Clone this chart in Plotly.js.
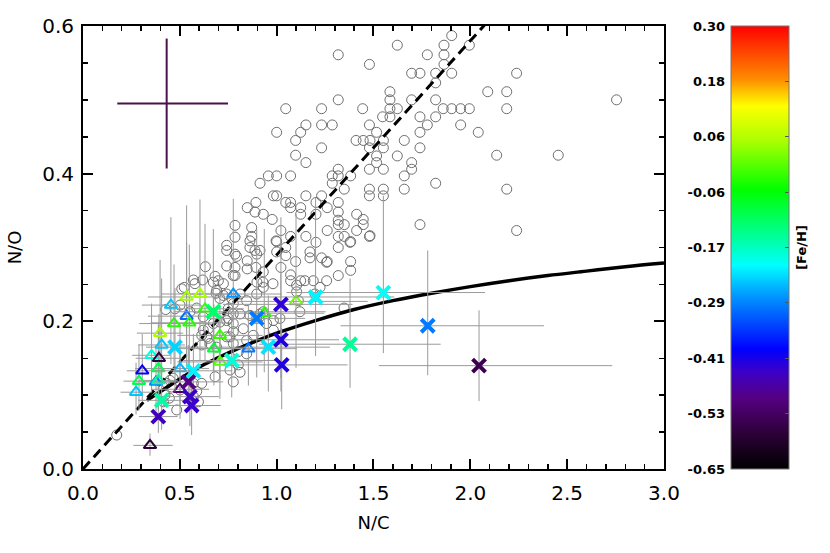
<!DOCTYPE html>
<html>
<head>
<meta charset="utf-8">
<script src="https://cdn.plot.ly/plotly-3.0.1.min.js"></script>
<style>
body { margin: 0; background: white; }
#plotArea { width: 830px; height: 553px; }
</style>
</head>
<body>
<div id="plotArea"></div>
<script>
// comparison sample (open grey circles)
var sampleNC = [1.904,1.623,1.318,1.479,1.995,1.864,1.778,1.864,1.864,1.904,1.697,1.740,1.821,1.821,2.239,2.090,2.188,2.188,
    1.860,1.904,1.950,1.995,1.821,1.697,1.585,1.585,1.585,1.623,1.547,1.585,1.740,1.821,1.950,2.041,1.778,1.740,1.659,1.740,
    1.479,1.516,1.410,1.447,1.482,1.551,1.479,1.551,1.516,1.623,1.516,1.479,1.551,1.697,1.697,1.659,1.821,1.659,1.479,1.551,
    1.479,1.551,2.188,2.136,1.740,2.239,2.755,2.454,1.047,1.232,1.318,1.444,1.000,1.124,1.151,1.232,1.287,1.098,1.232,1.098,
    1.151,0.957,1.000,1.072,0.914,1.287,1.318,1.287,1.318,1.382,1.349,0.983,1.000,0.893,0.848,1.047,1.072,1.151,1.232,1.203,
    0.931,0.977,1.072,1.124,1.124,1.203,1.261,1.318,1.318,1.318,1.413,1.447,1.447,1.413,1.479,1.022,1.000,1.072,1.151,1.203,
    1.261,1.318,1.349,1.318,1.349,1.382,1.318,1.172,1.172,1.232,1.261,1.098,1.124,1.072,1.072,1.318,1.382,1.382,1.047,1.047,
    1.000,1.022,0.931,0.893,0.897,0.862,0.888,0.914,0.848,0.848,0.862,0.785,0.785,0.785,0.785,0.785,0.888,0.871,0.898,0.929,
    0.981,1.103,0.871,0.742,0.742,0.793,0.997,0.742,0.632,0.776,0.682,0.699,0.618,0.578,0.725,0.523,0.687,0.707,0.742,0.768,
    0.811,0.845,0.897,0.931,0.427,0.475,0.552,0.587,0.750,0.776,0.811,0.501,0.621,0.673,0.707,0.742,0.862,0.931,0.897,0.948,
    0.983,1.017,0.828,0.776,0.759,0.879,0.621,0.613,0.639,0.656,0.613,0.802,0.845,0.802,0.759,0.811,0.682,0.776,0.449,0.465,
    0.432,0.458,0.501,0.423,0.484,0.570,0.596,0.613,0.174,0.570,0.673,0.510,0.690,0.725,0.776,0.750,0.776,0.647,0.647,0.742,
    0.776,0.690,0.845,0.914,0.983,1.103,1.112,1.120,1.189,1.224,1.258,1.198,0.415,0.446,0.570,0.587,1.348,1.258,1.146,1.482,
    1.379];
var sampleNO = [0.587,0.574,0.561,0.548,0.574,0.574,0.561,0.561,0.548,0.536,0.536,0.536,0.536,0.523,0.536,0.511,0.511,0.488,
    0.488,0.488,0.488,0.488,0.500,0.500,0.511,0.500,0.488,0.488,0.477,0.477,0.477,0.477,0.466,0.456,0.466,0.456,0.445,0.435,
    0.466,0.456,0.445,0.445,0.445,0.445,0.435,0.435,0.424,0.424,0.415,0.406,0.406,0.415,0.406,0.397,0.387,0.379,0.379,0.379,
    0.370,0.370,0.379,0.425,0.331,0.323,0.500,0.425,0.488,0.488,0.500,0.488,0.456,0.456,0.466,0.466,0.466,0.445,0.435,0.425,
    0.415,0.397,0.397,0.397,0.387,0.397,0.397,0.387,0.406,0.397,0.379,0.370,0.370,0.361,0.354,0.361,0.361,0.370,0.370,0.361,
    0.345,0.338,0.354,0.354,0.345,0.345,0.354,0.361,0.348,0.337,0.345,0.338,0.331,0.323,0.315,0.323,0.308,0.315,0.315,0.307,
    0.323,0.331,0.331,0.315,0.315,0.308,0.300,0.294,0.286,0.286,0.281,0.281,0.255,0.255,0.263,0.262,0.281,0.269,0.300,0.289,
    0.294,0.273,0.267,0.273,0.291,0.300,0.296,0.296,0.282,0.271,0.309,0.291,0.273,0.262,0.330,0.314,0.348,0.327,0.253,0.253,
    0.251,0.249,0.315,0.303,0.296,0.288,0.309,0.275,0.274,0.262,0.261,0.255,0.256,0.251,0.251,0.246,0.238,0.231,0.237,0.231,
    0.237,0.228,0.237,0.246,0.216,0.217,0.213,0.218,0.217,0.210,0.210,0.222,0.206,0.197,0.199,0.201,0.208,0.213,0.204,0.197,
    0.201,0.204,0.190,0.186,0.179,0.181,0.188,0.181,0.179,0.170,0.168,0.159,0.156,0.141,0.134,0.131,0.125,0.118,0.120,0.123,
    0.116,0.111,0.107,0.100,0.080,0.098,0.091,0.116,0.046,0.256,0.253,0.244,0.242,0.235,0.224,0.204,0.197,0.190,0.177,0.179,
    0.170,0.165,0.174,0.210,0.188,0.240,0.228,0.213,0.255,0.246,0.255,0.237,0.091,0.096,0.116,0.105,0.218,0.280,0.255,0.316,
    0.307];

// triangles, coloured by [Fe/H]
var triNC   = [0.535,0.604,0.454,0.776,0.535,0.630,0.470,0.549,0.398,0.406,0.707,0.676,0.707,0.936,1.100,0.854,0.354,0.392,0.306,0.389,0.501,0.289,0.377,0.274,0.501,0.346,0.389];
var triNO   = [0.233,0.237,0.222,0.237,0.207,0.217,0.197,0.198,0.184,0.168,0.181,0.163,0.145,0.211,0.227,0.163,0.154,0.150,0.133,0.136,0.136,0.119,0.118,0.104,0.108,0.032,0.120];
var triFeH  = [0.05,0.05,-0.25,-0.28,-0.31,-0.02,-0.03,-0.03,0.05,-0.25,-0.02,-0.08,0.0,-0.03,0.02,-0.30,-0.19,-0.57,-0.40,-0.10,-0.26,-0.10,-0.29,-0.25,-0.52,-0.58,-0.15];
var triNCLo = [0.20,0.20,0.15,0.25,0.20,0.20,0.18,0.20,0.12,0.12,0.22,0.20,0.22,0.28,0.30,0.25,0.10,0.12,0.08,0.12,0.15,0.08,0.10,0.08,0.15,0.086,0.10];
var triNCHi = [0.20,0.20,0.15,0.25,0.20,0.20,0.18,0.20,0.12,0.12,0.22,0.20,0.22,0.31,0.37,0.25,0.10,0.12,0.08,0.12,0.15,0.08,0.10,0.08,0.15,0.117,0.10];
var triNOLo = [0.080,0.090,0.080,0.100,0.070,0.070,0.060,0.070,0.060,0.050,0.060,0.050,0.050,0.080,0.090,0.050,0.050,0.050,0.040,0.050,0.050,0.040,0.040,0.030,0.040,0.014,0.040];
var triNOHi = [0.124,0.128,0.119,0.129,0.100,0.115,0.080,0.106,0.099,0.090,0.070,0.060,0.060,0.114,0.118,0.060,0.070,0.060,0.050,0.060,0.060,0.050,0.050,0.040,0.050,0.016,0.040];

// crosses, coloured by [Fe/H]
var crsNC   = [0.673,0.897,1.022,1.201,0.475,0.957,1.022,1.026,0.768,0.570,0.544,0.552,0.561,0.406,0.389,1.551,1.379,1.780,2.045];
var crsNO   = [0.213,0.204,0.223,0.233,0.165,0.165,0.175,0.141,0.147,0.133,0.118,0.098,0.086,0.093,0.071,0.239,0.169,0.194,0.140];
var crsFeH  = [-0.12,-0.30,-0.43,-0.22,-0.24,-0.23,-0.42,-0.42,-0.19,-0.22,-0.50,-0.44,-0.44,-0.16,-0.45,-0.21,-0.15,-0.30,-0.55];
var crsNCLo = [0.20,0.25,0.30,0.40,0.15,0.30,0.30,0.30,0.25,0.20,0.18,0.15,0.15,0.12,0.10,0.50,0.47,0.45,0.517];
var crsNCHi = [0.58,0.25,0.37,0.406,0.15,0.318,0.30,0.34,0.25,0.20,0.18,0.15,0.15,0.12,0.10,0.525,0.468,0.60,0.688];
var crsNOLo = [0.080,0.080,0.100,0.080,0.060,0.060,0.070,0.060,0.050,0.040,0.040,0.040,0.040,0.040,0.022,0.082,0.059,0.067,0.048];
var crsNOHi = [0.112,0.121,0.118,0.135,0.080,0.070,0.090,0.050,0.060,0.050,0.050,0.040,0.040,0.040,0.040,0.131,0.089,0.102,0.075];

// dashed reference line
var lineNC = [0, 2.1];
var lineNO = [0, 0.609];

// solid model curve
var modelNC = [0.33,0.40,0.50,0.60,0.70,0.80,0.90,1.00,1.20,1.40,1.60,1.80,2.00,2.20,2.40,2.60,2.80,3.00];
var modelNO = [0.093,0.105,0.122,0.138,0.151,0.163,0.174,0.184,0.201,0.216,0.228,0.238,0.247,0.255,0.262,0.268,0.274,0.279];

// typical error bar
var typNC = [0.432];
var typNO = [0.495];
var typNCLo = [0.255];
var typNCHi = [0.317];
var typNOErr = [0.088];

// colour bar ticks
var fehTickVals = [0.30, 0.18125, 0.0625, -0.05625, -0.175, -0.29375, -0.4125, -0.53125, -0.65];
var fehTickText = ['0.30', '0.18', '0.06', '-0.06', '-0.17', '-0.29', '-0.41', '-0.53', '-0.65'];

var rainbow = [
    [0.00, 'rgb(0,0,0)'],
    [0.08, 'rgb(45,0,55)'],
    [0.16, 'rgb(85,0,130)'],
    [0.22, 'rgb(60,0,200)'],
    [0.27, 'rgb(0,0,255)'],
    [0.39, 'rgb(0,150,255)'],
    [0.46, 'rgb(0,255,255)'],
    [0.52, 'rgb(0,255,160)'],
    [0.63, 'rgb(0,255,0)'],
    [0.74, 'rgb(170,255,0)'],
    [0.82, 'rgb(255,255,0)'],
    [0.88, 'rgb(255,140,0)'],
    [1.00, 'rgb(255,0,0)']
];

var greyErr = function(lo, hi) {
    return {type: 'data', symmetric: false, array: hi, arrayminus: lo, color: '#9a9a9a', thickness: 1, width: 0};
};

var sample = {
    x: sampleNC, y: sampleNO, mode: 'markers', type: 'scatter',
    marker: {symbol: 'circle-open', size: 10, color: '#6e6e6e', line: {width: 1}}
};

var dashed = {
    x: lineNC, y: lineNO, mode: 'lines', type: 'scatter',
    line: {color: 'black', width: 3, dash: '10px,6px'}
};

var model = {
    x: modelNC, y: modelNO, mode: 'lines', type: 'scatter',
    line: {color: 'black', width: 3.5, shape: 'spline'}
};

var triangles = {
    x: triNC, y: triNO, mode: 'markers', type: 'scatter',
    error_x: greyErr(triNCLo, triNCHi),
    error_y: greyErr(triNOLo, triNOHi),
    marker: {
        symbol: 'triangle-up-open', size: 11, line: {width: 2},
        color: triFeH, colorscale: rainbow, cmin: -0.65, cmax: 0.30,
        showscale: true,
        colorbar: {
            x: 0.9038, xanchor: 'left', xpad: 0,
            y: 0.5, yanchor: 'middle', ypad: 0, len: 1,
            thickness: 58, outlinewidth: 1, outlinecolor: '#777',
            tickmode: 'array', tickvals: fehTickVals, showticklabels: false,
            ticks: 'inside', ticklen: 4, tickcolor: '#555',
            title: {text: '[Fe/H]', side: 'right', font: {size: 13, weight: 'bold'}}
        }
    }
};

var crosses = {
    x: crsNC, y: crsNO, mode: 'markers', type: 'scatter',
    error_x: greyErr(crsNCLo, crsNCHi),
    error_y: greyErr(crsNOLo, crsNOHi),
    marker: {
        symbol: 'x-thin-open', size: 13, line: {width: 4},
        color: crsFeH, colorscale: rainbow, cmin: -0.65, cmax: 0.30, showscale: false
    }
};

var typical = {
    x: typNC, y: typNO, mode: 'markers', type: 'scatter',
    marker: {size: 1, color: 'rgba(0,0,0,0)'},
    error_x: {type: 'data', symmetric: false, array: typNCHi, arrayminus: typNCLo, color: '#4b1149', thickness: 2, width: 0},
    error_y: {type: 'data', array: typNOErr, color: '#4b1149', thickness: 2, width: 0}
};

// empty trace so the colour-bar label axis is drawn
var scaleAxis = {x: [], y: [], yaxis: 'y2', type: 'scatter', mode: 'markers'};

var axisStyle = {
    showline: true, linewidth: 2, linecolor: 'black', mirror: 'ticks',
    ticks: 'inside', ticklen: 10, tickwidth: 2, tickcolor: 'black',
    showgrid: false, zeroline: false,
    tickfont: {family: 'DejaVu Sans', size: 20, color: 'black'}
};

var layout = {
    width: 830, height: 553,
    margin: {l: 83, r: 30, t: 26, b: 84},
    paper_bgcolor: 'white', plot_bgcolor: 'white',
    showlegend: false,
    font: {family: 'DejaVu Sans', color: 'black'},
    xaxis: Object.assign({}, axisStyle, {
        domain: [0, 0.8103], range: [0, 3], tick0: 0, dtick: 0.5, tickformat: '.1f',
        ticklabelstandoff: 5,
        minor: {dtick: 0.1, ticks: 'inside', ticklen: 5, tickwidth: 1.5, tickcolor: 'black'},
        title: {text: 'N/C', font: {size: 18}, standoff: 12}
    }),
    yaxis: Object.assign({}, axisStyle, {
        range: [0, 0.6], tick0: 0, dtick: 0.2, tickformat: '.1f',
        ticklabelstandoff: 3,
        minor: {dtick: 0.05, ticks: 'inside', ticklen: 5, tickwidth: 1.5, tickcolor: 'black'},
        title: {text: 'N/O', font: {size: 18}, standoff: 16}
    }),
    yaxis2: {
        overlaying: 'y', anchor: 'free', position: 0.9038, side: 'left',
        range: [-0.65, 0.30], tickmode: 'array', tickvals: fehTickVals, ticktext: fehTickText,
        showline: false, showgrid: false, zeroline: false,
        ticks: 'inside', ticklen: 4, tickcolor: '#555', ticklabelstandoff: 6,
        tickfont: {family: 'DejaVu Sans', size: 13, weight: 'bold', color: 'black'}
    }
};

Plotly.newPlot('plotArea', [sample, dashed, model, triangles, crosses, typical, scaleAxis], layout, {staticPlot: true});
</script>
</body>
</html>
